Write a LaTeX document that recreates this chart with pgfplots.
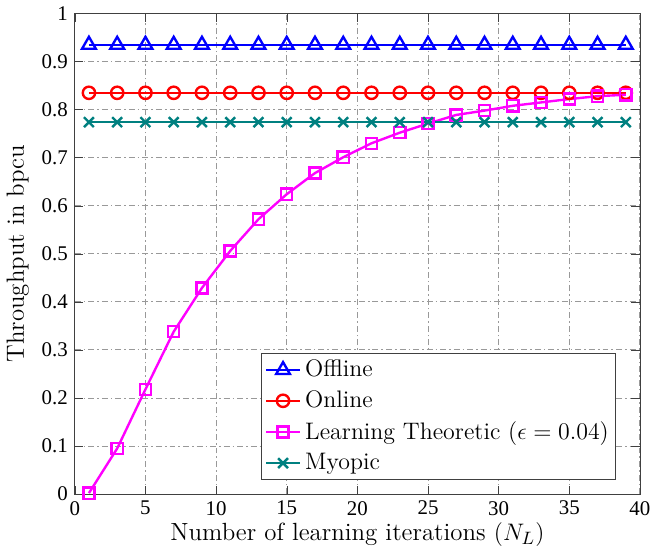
\documentclass[border=0pt]{standalone}
\usepackage{pgfplots}
\pgfplotsset{compat=1.18}
\usepackage{fontspec}
\newfontfamily\tnr{Liberation Serif}
\definecolor{mymag}{rgb}{1,0,1}
\definecolor{myteal}{rgb}{0,0.5,0.5}
\begin{document}
\begin{tikzpicture}
\begin{axis}[
  scale only axis,
  width=284pt, height=241.5pt,
  xmin=0, xmax=40, ymin=0, ymax=1,
  xtick={0,5,...,40},
  ytick={0,0.1,...,1.0},
  yticklabels={0,0.1,0.2,0.3,0.4,0.5,0.6,0.7,0.8,0.9,1},
  /pgf/number format/assume math mode=true,
  tick label style={font=\tnr\fontsize{10.5}{12}\selectfont},
  label style={font=\fontsize{12.5}{14}\selectfont},
  xlabel={Number of learning iterations $(N_L)$},
  ylabel={Throughput in bpcu},
  xlabel style={yshift=3pt},
  ylabel style={yshift=-0.5pt},
  grid=major,
  major grid style={dash pattern=on 3pt off 1.5pt on 0.8pt off 1.5pt, gray!80, line width=0.45pt},
  tick align=inside,
  axis line style={black!75},
  tick style={black!75},
  legend style={at={(0.958,0.029)}, anchor=south east, font=\fontsize{12}{14}\selectfont, draw=black!75, row sep=1.5pt, inner sep=1.5pt},
  legend cell align=left,
  every axis plot/.append style={line width=1.2pt},
]
\addplot[blue, mark=triangle, mark size=4pt, mark options={solid, line width=1.2pt}] coordinates {
(1,0.935)(3,0.935)(5,0.935)(7,0.935)(9,0.935)(11,0.935)(13,0.935)(15,0.935)(17,0.935)(19,0.935)
(21,0.935)(23,0.935)(25,0.935)(27,0.935)(29,0.935)(31,0.935)(33,0.935)(35,0.935)(37,0.935)(39,0.935)};
\addlegendentry{Offline}
\addplot[red, mark=o, mark size=3.1pt, mark options={solid, line width=1.2pt}] coordinates {
(1,0.835)(3,0.835)(5,0.835)(7,0.835)(9,0.835)(11,0.835)(13,0.835)(15,0.835)(17,0.835)(19,0.835)
(21,0.835)(23,0.835)(25,0.835)(27,0.835)(29,0.835)(31,0.835)(33,0.835)(35,0.835)(37,0.835)(39,0.835)};
\addlegendentry{Online}
\addplot[mymag, mark=square, mark size=2.8pt, mark options={solid, line width=1.2pt}] coordinates {
(1,0.002)(3,0.095)(5,0.218)(7,0.338)(9,0.429)(11,0.506)(13,0.572)(15,0.624)(17,0.668)(19,0.701)
(21,0.730)(23,0.752)(25,0.771)(27,0.789)(29,0.798)(31,0.808)(33,0.815)(35,0.822)(37,0.828)(39,0.831)};
\addlegendentry{Learning Theoretic ($\epsilon=0.04$)}
\addplot[myteal, mark=x, mark size=3.5pt, mark options={solid, line width=1.2pt}] coordinates {
(1,0.774)(3,0.774)(5,0.774)(7,0.774)(9,0.774)(11,0.774)(13,0.774)(15,0.774)(17,0.774)(19,0.774)
(21,0.774)(23,0.774)(25,0.774)(27,0.774)(29,0.774)(31,0.774)(33,0.774)(35,0.774)(37,0.774)(39,0.774)};
\addlegendentry{Myopic}
\end{axis}
\end{tikzpicture}
\end{document}
